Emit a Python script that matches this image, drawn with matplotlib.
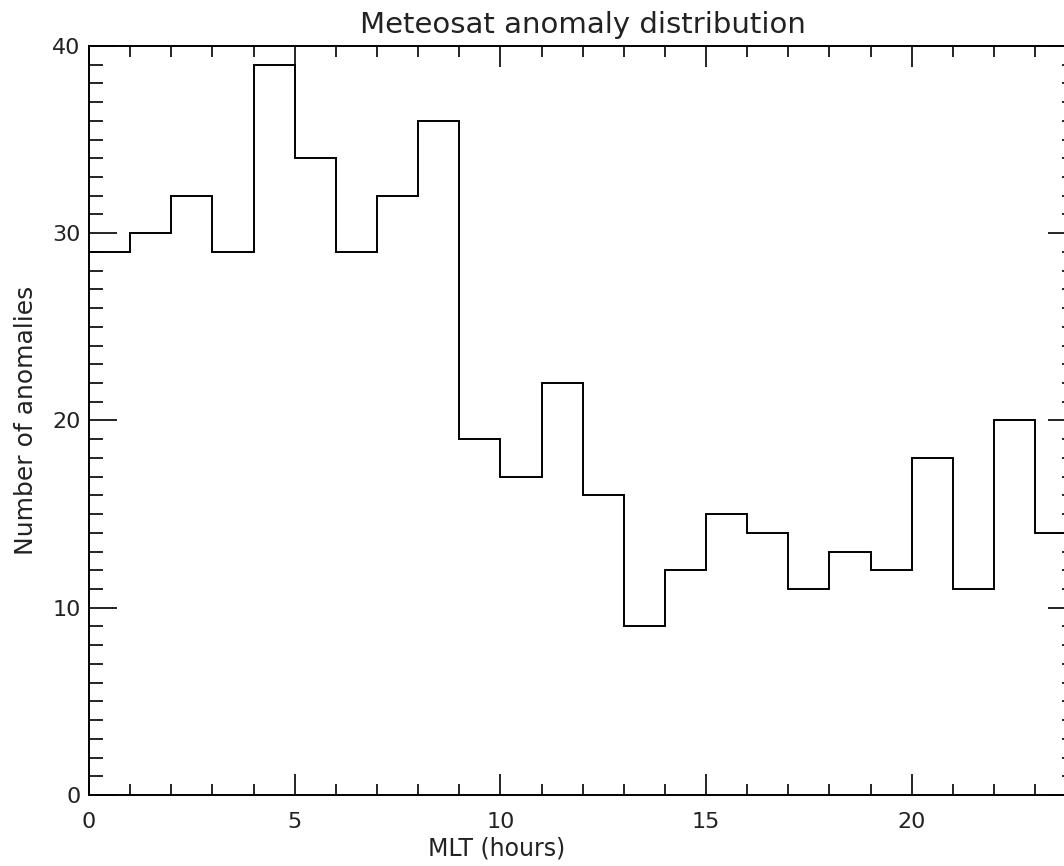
import numpy as np
import matplotlib.pyplot as plt
from matplotlib.ticker import MultipleLocator

# hourly MLT bins and anomaly counts
bin_edges = np.arange(0, 25)
counts = [29, 30, 32, 29, 39, 34, 29, 32, 36, 19, 17, 22,
          16, 9, 12, 15, 14, 11, 13, 12, 18, 11, 20, 14]

fig = plt.figure(figsize=(10.64, 8.66), dpi=100)
# right edge of the axes sits just past the image, as in the original
ax = fig.add_axes([0.0836, 0.082, 0.928, 0.865])

ax.stairs(counts, bin_edges, color='black', linewidth=1.4, baseline=None)

ax.set_xlim(0, 24)
ax.set_ylim(0, 40)
ax.xaxis.set_major_locator(MultipleLocator(5))
ax.xaxis.set_minor_locator(MultipleLocator(1))
ax.yaxis.set_major_locator(MultipleLocator(10))
ax.yaxis.set_minor_locator(MultipleLocator(1))

ax.tick_params(which='both', direction='in', top=True, right=True,
               width=1.2, colors='black', labelcolor='#222222')
ax.tick_params(axis='x', which='major', length=15, pad=12, labelsize=16)
ax.tick_params(axis='x', which='minor', length=8)
ax.tick_params(axis='y', which='major', length=20, pad=6, labelsize=16)
ax.tick_params(axis='y', which='minor', length=10)
for s in ax.spines.values():
    s.set_linewidth(1.4)

ax.set_title('Meteosat anomaly distribution', fontsize=21, color='#222222', pad=9)
ax.set_xlabel('MLT (hours)', fontsize=17, color='#222222')
ax.xaxis.set_label_coords(0.413, -0.055, transform=ax.transAxes)
ax.xaxis.label.set_va('top')
ax.set_ylabel('Number of anomalies', fontsize=18, color='#222222', labelpad=10)

fig.savefig('out.png', dpi=100)
